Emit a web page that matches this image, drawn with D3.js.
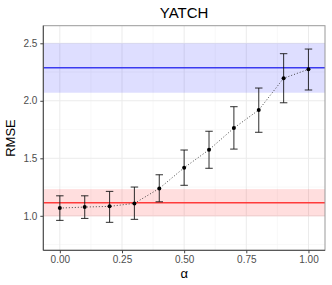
<!DOCTYPE html>
<html><head><meta charset="utf-8">
<script src="https://cdn.jsdelivr.net/npm/d3@7"></script>
<style>body{margin:0;background:#fff;}svg{display:block;font-family:"Liberation Sans",Arial,sans-serif;}</style>
</head><body>
<script>
const alphas = [0, 0.1, 0.2, 0.3, 0.4, 0.5, 0.6, 0.7, 0.8, 0.9, 1.0];
const rmse   = [1.067, 1.076, 1.082, 1.108, 1.238, 1.418, 1.574, 1.763, 1.920, 2.196, 2.274];
const lower  = [0.960, 0.977, 0.943, 0.969, 1.122, 1.265, 1.413, 1.580, 1.726, 1.983, 2.094];
const upper  = [1.174, 1.174, 1.212, 1.250, 1.357, 1.572, 1.735, 1.949, 2.111, 2.410, 2.450];
const blueRef = {mean: 2.287, lo: 2.07, hi: 2.50};
const redRef  = {mean: 1.113, lo: 0.995, hi: 1.232};
const xTicks = [0, 0.25, 0.5, 0.75, 1.0];
const xTickLabels = ["0.00", "0.25", "0.50", "0.75", "1.00"];
const xMinor = [0.125, 0.375, 0.625, 0.875];
const yTicks = [1.0, 1.5, 2.0, 2.5];
const yTickLabels = ["1.0", "1.5", "2.0", "2.5"];
const yMinor = [0.75, 1.25, 1.75, 2.25];

const W = 332, H = 285;
const L = 43.3, R = 325, T = 25.7, B = 250.3;
const svg = d3.select("body").append("svg").attr("width", W).attr("height", H);
const x = d3.scaleLinear().domain([-0.0665, 1.0665]).range([L, R]);
const y = d3.scaleLinear().domain([0.70, 2.653]).range([B, T]);

const g = svg.append("g");
// grid
g.selectAll(".xmin").data(xMinor).join("line").attr("x1", d=>x(d)).attr("x2", d=>x(d)).attr("y1", T).attr("y2", B).attr("stroke", "#f4f4f4").attr("stroke-width", 0.6);
g.selectAll(".ymin").data(yMinor).join("line").attr("y1", d=>y(d)).attr("y2", d=>y(d)).attr("x1", L).attr("x2", R).attr("stroke", "#f4f4f4").attr("stroke-width", 0.6);
g.selectAll(".xmaj").data(xTicks).join("line").attr("x1", d=>x(d)).attr("x2", d=>x(d)).attr("y1", T).attr("y2", B).attr("stroke", "#ebebeb").attr("stroke-width", 1);
g.selectAll(".ymaj").data(yTicks).join("line").attr("y1", d=>y(d)).attr("y2", d=>y(d)).attr("x1", L).attr("x2", R).attr("stroke", "#ebebeb").attr("stroke-width", 1);

// bands
g.append("rect").attr("x", L).attr("width", R-L).attr("y", y(blueRef.hi)).attr("height", y(blueRef.lo)-y(blueRef.hi)).attr("fill", "#0000ff").attr("fill-opacity", 0.13);
g.append("rect").attr("x", L).attr("width", R-L).attr("y", y(redRef.hi)).attr("height", y(redRef.lo)-y(redRef.hi)).attr("fill", "#ff0000").attr("fill-opacity", 0.13);
g.append("line").attr("x1", L).attr("x2", R).attr("y1", y(blueRef.mean)).attr("y2", y(blueRef.mean)).attr("stroke", "#3b3bf0").attr("stroke-width", 1.6);
g.append("line").attr("x1", L).attr("x2", R).attr("y1", y(redRef.mean)).attr("y2", y(redRef.mean)).attr("stroke", "#ff3b3b").attr("stroke-width", 1.6);

// dotted line
const data = alphas.map((a,i)=>({a, m: rmse[i], lo: lower[i], hi: upper[i]}));
g.append("path").datum(data).attr("d", d3.line().x(d=>x(d.a)).y(d=>y(d.m))).attr("fill", "none").attr("stroke", "#333").attr("stroke-width", 0.9).attr("stroke-dasharray", "1,2");

// error bars
const cap = 0.015;
const eb = g.selectAll(".eb").data(data).join("g").attr("stroke", "#111").attr("stroke-opacity", 0.8).attr("stroke-width", 1.1);
eb.append("line").attr("x1", d=>x(d.a)).attr("x2", d=>x(d.a)).attr("y1", d=>y(d.lo)).attr("y2", d=>y(d.hi));
eb.append("line").attr("x1", d=>x(d.a-cap)).attr("x2", d=>x(d.a+cap)).attr("y1", d=>y(d.lo)).attr("y2", d=>y(d.lo));
eb.append("line").attr("x1", d=>x(d.a-cap)).attr("x2", d=>x(d.a+cap)).attr("y1", d=>y(d.hi)).attr("y2", d=>y(d.hi));
g.selectAll(".pt").data(data).join("circle").attr("cx", d=>x(d.a)).attr("cy", d=>y(d.m)).attr("r", 2).attr("fill", "#000");

// border
svg.append("rect").attr("x", L).attr("y", T).attr("width", R-L).attr("height", B-T).attr("fill", "none").attr("stroke", "#999").attr("stroke-width", 1);
svg.append("line").attr("x1", L).attr("x2", L).attr("y1", T).attr("y2", B).attr("stroke", "#444").attr("stroke-width", 1);
svg.append("line").attr("x1", L).attr("x2", R).attr("y1", B).attr("y2", B).attr("stroke", "#444").attr("stroke-width", 1);

// axes
const xa = svg.append("g").attr("transform", `translate(0,${B})`).call(d3.axisBottom(x).tickValues(xTicks).tickFormat((d,i)=>xTickLabels[i]).tickSize(3).tickPadding(3));
const ya = svg.append("g").attr("transform", `translate(${L},0)`).call(d3.axisLeft(y).tickValues(yTicks).tickFormat((d,i)=>yTickLabels[i]).tickSize(3).tickPadding(3));
[xa, ya].forEach(a=>{a.select(".domain").remove(); a.selectAll("line").attr("stroke", "#444"); a.selectAll("text").attr("fill", "#4d4d4d").attr("font-size", "10px").attr("font-family", "Liberation Sans, Arial, sans-serif");});

svg.append("text").attr("x", (L+R)/2).attr("y", 18).attr("text-anchor", "middle").attr("font-size", "15px").attr("fill", "#000").text("YATCH");
svg.append("text").attr("transform", `translate(15,${(T+B)/2}) rotate(-90)`).attr("text-anchor", "middle").attr("font-size", "13px").attr("fill", "#000").text("RMSE");
svg.append("text").attr("x", x(0.5)).attr("y", 278).attr("text-anchor", "middle").attr("font-size", "13px").attr("fill", "#000").text("α");
</script>
</body></html>
